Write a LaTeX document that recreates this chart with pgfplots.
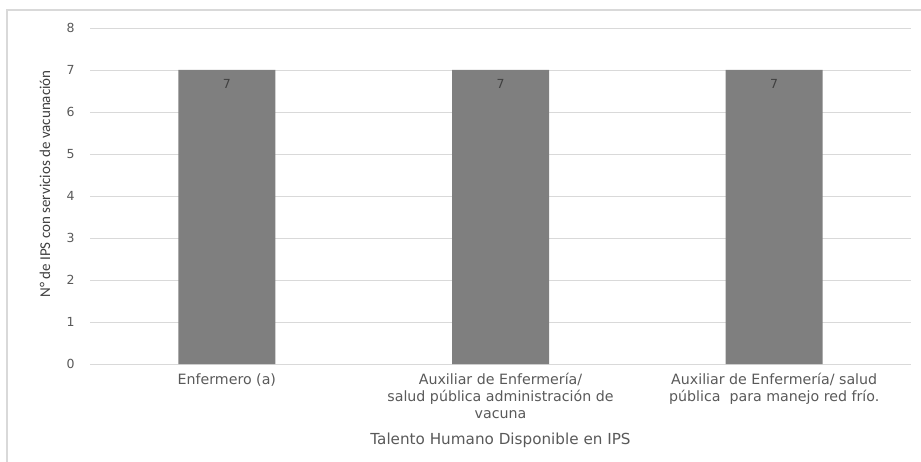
\documentclass[border=0pt]{standalone}
\usepackage{pgfplots}
\pgfplotsset{compat=1.18}
\usepackage{fontspec}
\setmainfont{DejaVu Sans}
\newfontfamily\carlito{Carlito}
\definecolor{barc}{HTML}{7F7F7F}
\definecolor{tickc}{HTML}{595959}
\definecolor{gridc}{HTML}{D9D9D9}
\definecolor{labc}{HTML}{404040}
\begin{document}
\begin{tikzpicture}
\path[use as bounding box] (0pt,0pt) rectangle (921pt,-462pt);
\draw[color=gridc, line width=1.5pt] (7pt,-470pt) -- (7pt,-10pt) -- (930pt,-10pt);
\begin{axis}[
  at={(90pt,-364pt)}, anchor=south west, scale only axis,
  width=821pt, height=336pt,
  xmin=-0.5, xmax=2.5, ymin=0, ymax=8,
  ytick={0,1,2,3,4,5,6,7,8},
  xtick={0,1,2},
  xticklabels={{Enfermero (a)},{Auxiliar de Enfermería/\\salud pública administración de\\vacuna},{Auxiliar de Enfermería/ salud\\pública \ para manejo red frío.}},
  axis line style={draw=none},
  major tick length=0pt,
  ymajorgrids, grid style={color=gridc, line width=0.9pt},
  /pgf/number format/assume math mode=true,
  yticklabel style={font=\fontsize{12.5}{14}\selectfont, color=tickc, anchor=east, xshift=-12pt},
  xticklabel style={font=\fontsize{14.2}{17}\selectfont, color=tickc, align=center, anchor=north, yshift=-6pt},
  xlabel={Talento Humano Disponible en IPS},
  ylabel={\carlito N° de IPS con servicios de vacunación},
  x label style={at={(axis description cs:0.5,-0.226)}, anchor=center, font=\fontsize{15.2}{17}\selectfont, color=tickc},
  y label style={at={(axis description cs:-0.0548,0.536)}, anchor=center, font=\fontsize{15}{17}\selectfont, color=labc},
  ybar, bar width=97pt,
  nodes near coords,
  nodes near coords style={anchor=north, yshift=-6pt, font=\fontsize{12.5}{14}\selectfont, color=labc},
]
\addplot[fill=barc, draw=none] coordinates {(0,7) (1,7) (2,7)};
\end{axis}
\end{tikzpicture}
\end{document}
